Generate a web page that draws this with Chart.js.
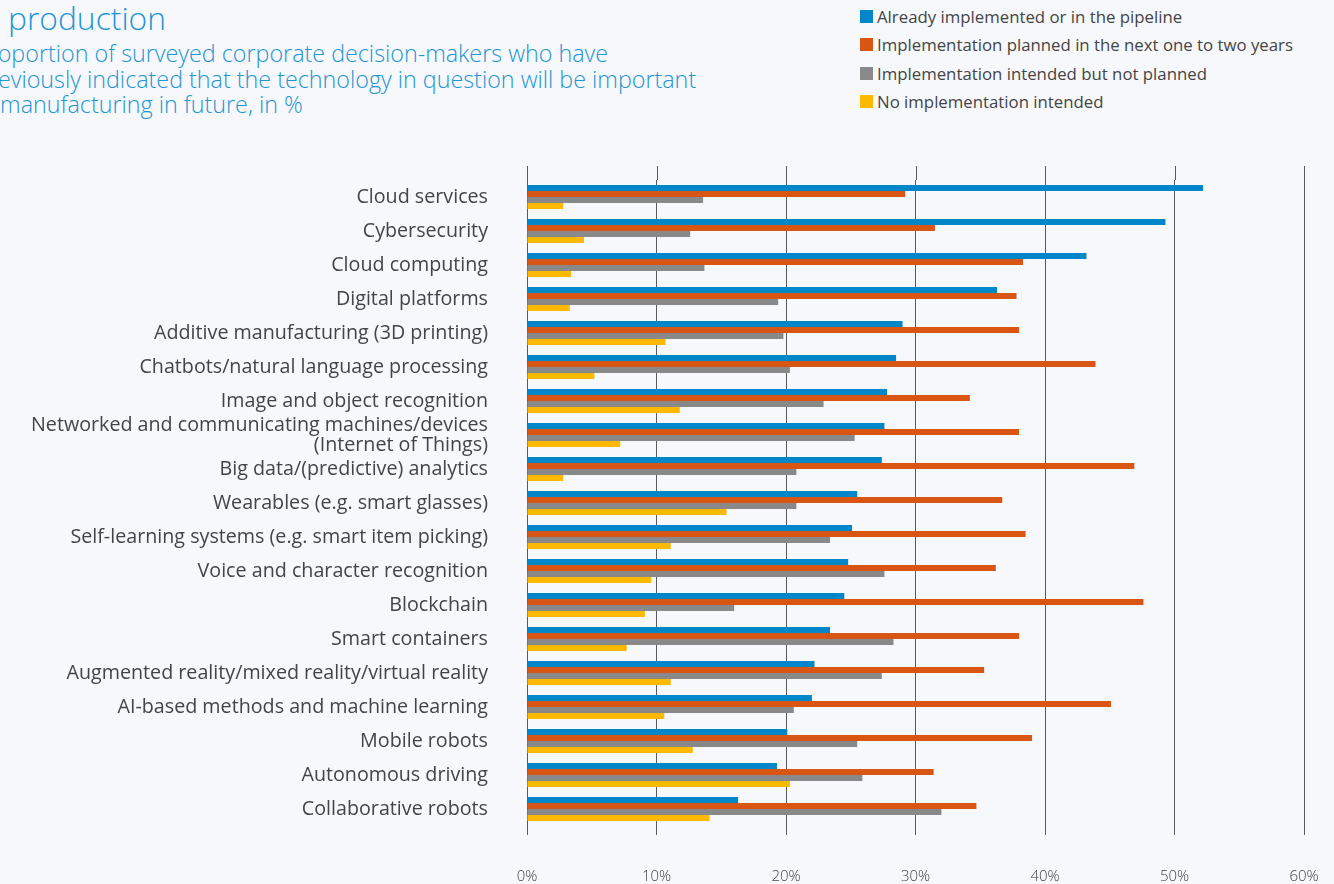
<!DOCTYPE html>
<html lang="en">
<head>
<meta charset="utf-8">
<title>Technologies in production</title>
<script src="https://cdn.jsdelivr.net/npm/chart.js@4.4.1/dist/chart.umd.min.js"></script>
<style>
    html, body {
        margin: 0;
        padding: 0;
        width: 1334px;
        height: 884px;
        overflow: hidden;
        background: #f6f8fc;
        font-family: "Open Sans", sans-serif;
    }
    #heading {
        position: absolute;
        left: -25px;
        top: 0;
        color: #1f95d3;
        font-weight: 300;
        white-space: nowrap;
    }
    #heading .title {
        font-size: 31.8px;
        line-height: 36px;
        padding-left: 33px;
    }
    #heading .subtitle {
        font-size: 23.3px;
        line-height: 25.5px;
        margin-top: 5px;
    }
    #legend {
        position: absolute;
        left: 860px;
        top: 2px;
        font-size: 16.8px;
        color: #444;
    }
    #legend .item {
        height: 28.5px;
        display: flex;
        align-items: center;
    }
    #legend .swatch {
        width: 13px;
        height: 13px;
        margin-right: 4px;
    }
    #chartBox {
        position: absolute;
        left: 0;
        top: 0;
    }
</style>
</head>
<body>
<div id="heading">
    <div class="title">production</div>
    <div class="subtitle">Proportion of surveyed corporate decision-makers who have<br>previously indicated that the technology in question will be important<br>in manufacturing in future, in %</div>
</div>
<div id="legend"></div>
<canvas id="chartBox" width="1334" height="884"></canvas>

<script>
const technologies = [
    "Cloud services",
    "Cybersecurity",
    "Cloud computing",
    "Digital platforms",
    "Additive manufacturing (3D printing)",
    "Chatbots/natural language processing",
    "Image and object recognition",
    ["Networked and communicating machines/devices", "(Internet of Things)"],
    "Big data/(predictive) analytics",
    "Wearables (e.g. smart glasses)",
    "Self-learning systems (e.g. smart item picking)",
    "Voice and character recognition",
    "Blockchain",
    "Smart containers",
    "Augmented reality/mixed reality/virtual reality",
    "AI-based methods and machine learning",
    "Mobile robots",
    "Autonomous driving",
    "Collaborative robots",
];

const seriesNames = [
    "Already implemented or in the pipeline",
    "Implementation planned in the next one to two years",
    "Implementation intended but not planned",
    "No implementation intended",
];

const seriesColors = ["#0086c9", "#d95513", "#898989", "#fdb900"];

const alreadyImplemented = [52.2, 49.3, 43.2, 36.3, 29.0, 28.5, 27.8, 27.6, 27.4, 25.5, 25.1, 24.8, 24.5, 23.4, 22.2, 22.0, 20.1, 19.3, 16.3];
const plannedNextYears = [29.2, 31.5, 38.3, 37.8, 38.0, 43.9, 34.2, 38.0, 46.9, 36.7, 38.5, 36.2, 47.6, 38.0, 35.3, 45.1, 39.0, 31.4, 34.7];
const intendedNotPlanned = [13.6, 12.6, 13.7, 19.4, 19.8, 20.3, 22.9, 25.3, 20.8, 20.8, 23.4, 27.6, 16.0, 28.3, 27.4, 20.6, 25.5, 25.9, 32.0];
const noImplementation = [2.8, 4.4, 3.4, 3.3, 10.7, 5.2, 11.8, 7.2, 2.8, 15.4, 11.1, 9.6, 9.1, 7.7, 11.1, 10.6, 12.8, 20.3, 14.1];

const xTicks = [0, 10, 20, 30, 40, 50, 60];

const GRID_COLOR = "#5a5a5a";
const LABEL_COLOR = "#444444";

// gridlines reach a bit above the first bar group
const gridTopExtension = {
    id: "gridTopExtension",
    beforeDatasetsDraw(chart) {
        const { ctx, chartArea, scales } = chart;
        ctx.save();
        ctx.strokeStyle = GRID_COLOR;
        ctx.lineWidth = 1;
        xTicks.forEach((t) => {
            const x = Math.round(scales.x.getPixelForValue(t)) + 0.5;
            ctx.beginPath();
            ctx.moveTo(x, chartArea.top - 14);
            ctx.lineTo(x, chartArea.top);
            ctx.stroke();
        });
        ctx.restore();
    },
};

function buildDatasets() {
    const values = [alreadyImplemented, plannedNextYears, intendedNotPlanned, noImplementation];
    return values.map((data, i) => ({
        label: seriesNames[i],
        data: data,
        backgroundColor: seriesColors[i],
        borderWidth: 0,
        barPercentage: 1,
        categoryPercentage: 24 / 34,
    }));
}

function drawLegend(datasets, whereToDraw) {
    const target = document.getElementById(whereToDraw);
    datasets.forEach((ds) => {
        const item = document.createElement("div");
        item.classList.add("item");
        const swatch = document.createElement("span");
        swatch.classList.add("swatch");
        swatch.style.background = ds.backgroundColor;
        const text = document.createElement("span");
        text.innerText = ds.label;
        item.append(swatch, text);
        target.appendChild(item);
    });
}

function createChart(canvasID) {
    const datasets = buildDatasets();
    drawLegend(datasets, "legend");

    return new Chart(document.getElementById(canvasID), {
        type: "bar",
        data: {
            labels: technologies,
            datasets: datasets,
        },
        plugins: [gridTopExtension],
        options: {
            indexAxis: "y",
            responsive: false,
            animation: false,
            layout: {
                padding: { top: 180, right: 30, bottom: 0, left: 0 },
            },
            plugins: {
                legend: { display: false },
                title: { display: false },
                tooltip: { enabled: false },
            },
            scales: {
                x: {
                    min: 0,
                    max: 60,
                    afterBuildTicks: (scale) => {
                        scale.ticks = xTicks.map((v) => ({ value: v }));
                    },
                    afterFit: (scale) => {
                        scale.height = 58;
                        scale.paddingLeft = 0;
                        scale.paddingRight = 0;
                    },
                    grid: {
                        color: GRID_COLOR,
                        lineWidth: 1,
                        tickLength: 9,
                    },
                    border: { display: false },
                    ticks: {
                        padding: 33,
                        color: LABEL_COLOR,
                        font: { family: "Open Sans", size: 15, weight: 300 },
                        callback: (v) => v + "%",
                    },
                },
                y: {
                    afterFit: (scale) => {
                        scale.width = 527;
                    },
                    grid: { display: false },
                    border: { display: false },
                    ticks: {
                        autoSkip: false,
                        padding: 31,
                        color: LABEL_COLOR,
                        font: { family: "Open Sans", size: 19.7, weight: 400, lineHeight: 20 / 19.7 },
                    },
                },
            },
        },
    });
}

createChart("chartBox");
</script>
</body>
</html>
